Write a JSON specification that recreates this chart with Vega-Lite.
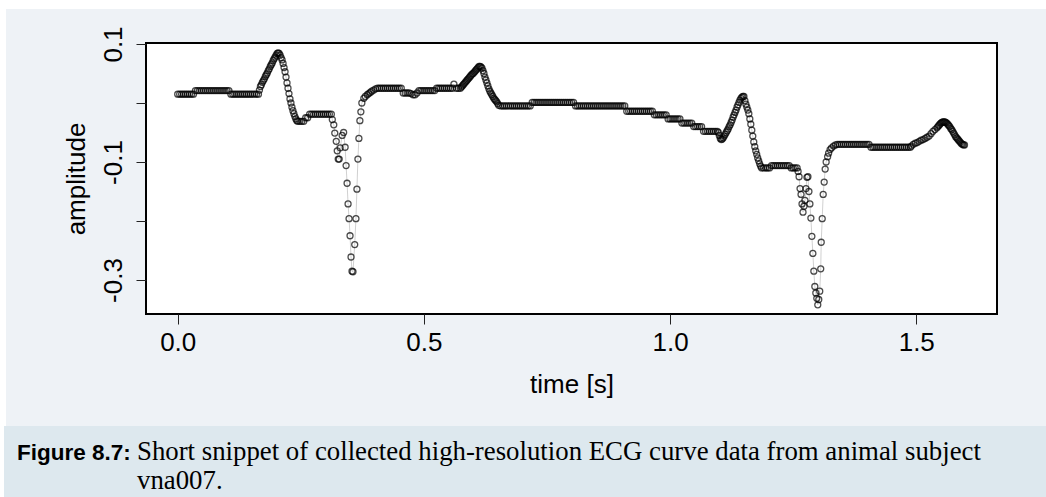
{
  "$schema": "https://vega.github.io/schema/vega-lite/v6.json",
  "width": 851,
  "height": 271,
  "autosize": {"type": "none"},
  "padding": {"left": 146, "top": 43, "right": 49, "bottom": 183},
  "background": "#eef2f6",
  "config": {
    "view": {"fill": "white", "stroke": "#000", "strokeWidth": 2},
    "font": "Liberation Sans"
  },
  "layer": [
    {
      "data": {"values": [{}]},
      "mark": {"type": "rect", "fill": "white", "stroke": null},
      "encoding": {"x": {"value": -146}, "x2": {"value": 900}, "y": {"value": -43}, "y2": {"value": -34}}
    },
    {
      "data": {"values": [{}]},
      "mark": {"type": "rect", "fill": "white", "stroke": null},
      "encoding": {"x": {"value": -146}, "x2": {"value": -140}, "y": {"value": -43}, "y2": {"value": 454}}
    },
    {
      "data": {"values": [{}]},
      "mark": {"type": "rect", "fill": "#dde8ee", "stroke": null},
      "encoding": {"x": {"value": -142}, "x2": {"value": 900}, "y": {"value": 383}, "y2": {"value": 454}}
    },
    {
      "data": {"values": [{}]},
      "mark": {"type": "text", "text": "Figure 8.7:", "font": "Liberation Sans", "fontWeight": "bold", "fontSize": 22.5, "align": "left", "baseline": "alphabetic", "color": "#000"},
      "encoding": {"x": {"value": -129}, "y": {"value": 417}}
    },
    {
      "data": {"values": [{}]},
      "mark": {"type": "text", "text": ["Short snippet of collected high-resolution ECG curve data from animal subject", "vna007."], "font": "Liberation Serif", "fontSize": 26.8, "lineHeight": 29, "align": "left", "baseline": "alphabetic", "color": "#000"},
      "encoding": {"x": {"value": -9}, "y": {"value": 417}}
    },
    {
      "data": {"name": "ecg"},
      "mark": {"type": "line", "color": "#c4c4c4", "strokeWidth": 0.8, "clip": true},
      "encoding": {
        "x": {"field": "t", "type": "quantitative", "scale": {"domain": [-0.0644, 1.664], "nice": false, "zero": false},
          "axis": {"title": "time [s]", "values": [0, 0.5, 1, 1.5], "format": ".1f", "domain": false, "grid": false,
            "tickColor": "#222", "tickSize": 10, "tickWidth": 1, "labelFontSize": 26, "labelFont": "Liberation Sans", "labelColor": "#000",
            "labelPadding": 26, "labelBaseline": "alphabetic", "labelFlush": false,
            "titleFontSize": 26, "titleFont": "Liberation Sans", "titleFontWeight": "normal", "titleColor": "#000",
            "titleBaseline": "alphabetic", "titleX": 425.5, "titleY": 78, "titleAnchor": "middle", "titleAlign": "center"}},
        "y": {"field": "a", "type": "quantitative", "scale": {"domain": [-0.3576, 0.1017], "nice": false, "zero": false},
          "axis": {"title": "amplitude", "values": [-0.3, -0.2, -0.1, 0, 0.1], "domain": false, "grid": false,
            "labelExpr": "abs(round(datum.value*10)) % 2 == 1 ? (datum.value < 0 ? '-' + format(-datum.value, '.1f') : format(datum.value, '.1f')) : ''",
            "tickColor": "#222", "tickSize": 10, "tickWidth": 1, "labelFontSize": 26, "labelFont": "Liberation Sans", "labelColor": "#000",
            "labelAngle": -90, "labelAlign": "center", "labelBaseline": "alphabetic", "labelPadding": 15, "labelFlush": false,
            "titleFontSize": 26, "titleFont": "Liberation Sans", "titleFontWeight": "normal", "titleColor": "#000",
            "titleAngle": -90, "titleBaseline": "alphabetic", "titleAlign": "center", "titleX": -62, "titleY": 135.5}}
      }
    },
    {
      "data": {"name": "ecg"},
      "mark": {"type": "point", "shape": "circle", "filled": false, "stroke": "#000", "strokeWidth": 1.3, "size": 36, "clip": true},
      "encoding": {
        "x": {"field": "t", "type": "quantitative"},
        "y": {"field": "a", "type": "quantitative"}
      }
    }
  ],
  "datasets": {
    "ecg": [
      {"t":0.000,"a":0.015},{"t":0.004,"a":0.015},{"t":0.008,"a":0.015},{"t":0.012,"a":0.015},{"t":0.016,"a":0.015},{"t":0.020,"a":0.015},{"t":0.024,"a":0.015},{"t":0.028,"a":0.015},{"t":0.032,"a":0.015},
      {"t":0.036,"a":0.021},{"t":0.040,"a":0.021},{"t":0.044,"a":0.021},{"t":0.048,"a":0.021},{"t":0.052,"a":0.021},{"t":0.056,"a":0.021},{"t":0.060,"a":0.021},{"t":0.064,"a":0.021},{"t":0.068,"a":0.021},{"t":0.072,"a":0.021},{"t":0.076,"a":0.021},{"t":0.080,"a":0.021},{"t":0.084,"a":0.021},{"t":0.088,"a":0.021},{"t":0.092,"a":0.021},{"t":0.096,"a":0.021},{"t":0.100,"a":0.021},{"t":0.104,"a":0.021},
      {"t":0.108,"a":0.015},{"t":0.112,"a":0.015},{"t":0.116,"a":0.015},{"t":0.120,"a":0.015},{"t":0.124,"a":0.015},{"t":0.128,"a":0.015},{"t":0.132,"a":0.015},{"t":0.136,"a":0.015},{"t":0.140,"a":0.015},{"t":0.144,"a":0.015},{"t":0.148,"a":0.015},{"t":0.152,"a":0.015},{"t":0.156,"a":0.015},{"t":0.160,"a":0.015},{"t":0.164,"a":0.015},
      {"t":0.166,"a":0.022},{"t":0.168,"a":0.028},{"t":0.170,"a":0.031},{"t":0.172,"a":0.035},{"t":0.174,"a":0.038},{"t":0.176,"a":0.041},{"t":0.178,"a":0.045},{"t":0.180,"a":0.048},{"t":0.182,"a":0.051},{"t":0.184,"a":0.055},{"t":0.186,"a":0.058},{"t":0.188,"a":0.062},{"t":0.190,"a":0.065},{"t":0.192,"a":0.068},{"t":0.194,"a":0.072},{"t":0.196,"a":0.075},{"t":0.198,"a":0.078},{"t":0.200,"a":0.081},{"t":0.202,"a":0.084},{"t":0.204,"a":0.085},
      {"t":0.206,"a":0.084},{"t":0.208,"a":0.081},{"t":0.210,"a":0.077},{"t":0.212,"a":0.073},{"t":0.214,"a":0.067},{"t":0.216,"a":0.060},{"t":0.218,"a":0.053},{"t":0.220,"a":0.044},{"t":0.222,"a":0.034},{"t":0.224,"a":0.025},{"t":0.226,"a":0.016},{"t":0.228,"a":0.007},{"t":0.230,"a":0.000},{"t":0.232,"a":-0.007},{"t":0.234,"a":-0.013},{"t":0.236,"a":-0.018},{"t":0.238,"a":-0.023},{"t":0.240,"a":-0.027},{"t":0.242,"a":-0.030},
      {"t":0.244,"a":-0.031},{"t":0.248,"a":-0.031},{"t":0.252,"a":-0.031},{"t":0.256,"a":-0.031},{"t":0.260,"a":-0.025},{"t":0.264,"a":-0.025},
      {"t":0.268,"a":-0.019},{"t":0.272,"a":-0.019},{"t":0.276,"a":-0.019},{"t":0.280,"a":-0.019},{"t":0.284,"a":-0.019},{"t":0.288,"a":-0.019},{"t":0.292,"a":-0.019},{"t":0.296,"a":-0.019},{"t":0.300,"a":-0.019},{"t":0.304,"a":-0.019},{"t":0.308,"a":-0.019},{"t":0.312,"a":-0.019},
      {"t":0.314,"a":-0.028},{"t":0.317,"a":-0.037},{"t":0.319,"a":-0.051},{"t":0.322,"a":-0.065},{"t":0.324,"a":-0.081},{"t":0.326,"a":-0.095},{"t":0.328,"a":-0.095},{"t":0.330,"a":-0.076},{"t":0.334,"a":-0.055},{"t":0.337,"a":-0.050},{"t":0.340,"a":-0.075},{"t":0.342,"a":-0.106},{"t":0.344,"a":-0.136},{"t":0.346,"a":-0.171},{"t":0.348,"a":-0.196},{"t":0.350,"a":-0.225},{"t":0.352,"a":-0.261},{"t":0.354,"a":-0.285},{"t":0.356,"a":-0.286},{"t":0.3595,"a":-0.240},{"t":0.362,"a":-0.196},{"t":0.364,"a":-0.146},{"t":0.366,"a":-0.095},{"t":0.368,"a":-0.060},{"t":0.370,"a":-0.030},{"t":0.372,"a":-0.015},{"t":0.374,"a":0.000},{"t":0.378,"a":0.008},{"t":0.381,"a":0.011},{"t":0.385,"a":0.014},{"t":0.388,"a":0.016},{"t":0.391,"a":0.018},{"t":0.394,"a":0.020},{"t":0.398,"a":0.022},{"t":0.402,"a":0.024},{"t":0.406,"a":0.025},
      {"t":0.410,"a":0.025},{"t":0.414,"a":0.025},{"t":0.418,"a":0.025},{"t":0.422,"a":0.025},{"t":0.426,"a":0.025},{"t":0.430,"a":0.025},{"t":0.434,"a":0.025},{"t":0.438,"a":0.025},{"t":0.442,"a":0.025},{"t":0.446,"a":0.025},{"t":0.450,"a":0.025},{"t":0.454,"a":0.025},
      {"t":0.458,"a":0.017},{"t":0.462,"a":0.017},{"t":0.466,"a":0.017},{"t":0.470,"a":0.017},{"t":0.474,"a":0.016},{"t":0.478,"a":0.014},{"t":0.482,"a":0.014},{"t":0.486,"a":0.017},
      {"t":0.490,"a":0.021},{"t":0.494,"a":0.021},{"t":0.498,"a":0.021},{"t":0.502,"a":0.021},{"t":0.506,"a":0.021},{"t":0.510,"a":0.021},{"t":0.514,"a":0.021},{"t":0.518,"a":0.021},{"t":0.522,"a":0.021},
      {"t":0.526,"a":0.025},{"t":0.530,"a":0.025},{"t":0.534,"a":0.025},{"t":0.538,"a":0.025},{"t":0.542,"a":0.025},{"t":0.546,"a":0.025},{"t":0.550,"a":0.025},{"t":0.554,"a":0.025},{"t":0.558,"a":0.025},{"t":0.561,"a":0.032},{"t":0.566,"a":0.025},{"t":0.570,"a":0.025},{"t":0.574,"a":0.025},
      {"t":0.576,"a":0.027},{"t":0.578,"a":0.029},{"t":0.580,"a":0.031},{"t":0.582,"a":0.033},{"t":0.584,"a":0.035},{"t":0.586,"a":0.037},{"t":0.588,"a":0.039},{"t":0.590,"a":0.041},{"t":0.592,"a":0.043},{"t":0.594,"a":0.045},{"t":0.596,"a":0.047},{"t":0.598,"a":0.049},{"t":0.600,"a":0.050},{"t":0.602,"a":0.052},{"t":0.604,"a":0.054},{"t":0.606,"a":0.056},{"t":0.608,"a":0.058},{"t":0.610,"a":0.060},{"t":0.612,"a":0.062},{"t":0.614,"a":0.062},
      {"t":0.616,"a":0.061},{"t":0.618,"a":0.059},{"t":0.620,"a":0.055},{"t":0.622,"a":0.050},{"t":0.624,"a":0.044},{"t":0.626,"a":0.039},{"t":0.628,"a":0.034},{"t":0.630,"a":0.029},{"t":0.632,"a":0.024},{"t":0.634,"a":0.020},{"t":0.636,"a":0.017},{"t":0.638,"a":0.014},{"t":0.640,"a":0.011},{"t":0.642,"a":0.008},{"t":0.644,"a":0.006},{"t":0.646,"a":0.004},{"t":0.648,"a":0.002},{"t":0.650,"a":-0.001},{"t":0.652,"a":-0.004},
      {"t":0.656,"a":-0.005},{"t":0.660,"a":-0.005},{"t":0.664,"a":-0.005},{"t":0.668,"a":-0.005},{"t":0.672,"a":-0.005},{"t":0.676,"a":-0.005},{"t":0.680,"a":-0.005},{"t":0.684,"a":-0.005},{"t":0.688,"a":-0.005},{"t":0.692,"a":-0.005},{"t":0.696,"a":-0.005},{"t":0.700,"a":-0.005},{"t":0.704,"a":-0.005},{"t":0.708,"a":-0.005},{"t":0.712,"a":-0.005},{"t":0.716,"a":-0.005},
      {"t":0.720,"a":0.001},{"t":0.724,"a":0.001},{"t":0.728,"a":0.001},{"t":0.732,"a":0.001},{"t":0.736,"a":0.001},{"t":0.740,"a":0.001},{"t":0.744,"a":0.001},{"t":0.748,"a":0.001},{"t":0.752,"a":0.001},{"t":0.756,"a":0.001},{"t":0.760,"a":0.001},{"t":0.764,"a":0.001},{"t":0.768,"a":0.001},{"t":0.772,"a":0.001},{"t":0.776,"a":0.001},{"t":0.780,"a":0.001},{"t":0.784,"a":0.001},{"t":0.788,"a":0.001},{"t":0.792,"a":0.001},{"t":0.796,"a":0.001},{"t":0.800,"a":0.001},{"t":0.804,"a":0.001},
      {"t":0.808,"a":-0.005},{"t":0.812,"a":-0.005},{"t":0.816,"a":-0.005},{"t":0.820,"a":-0.005},{"t":0.824,"a":-0.005},{"t":0.828,"a":-0.005},{"t":0.832,"a":-0.005},{"t":0.836,"a":-0.005},{"t":0.840,"a":-0.005},{"t":0.844,"a":-0.005},{"t":0.848,"a":-0.005},{"t":0.852,"a":-0.005},{"t":0.856,"a":-0.005},{"t":0.860,"a":-0.005},{"t":0.864,"a":-0.005},{"t":0.868,"a":-0.005},{"t":0.872,"a":-0.005},{"t":0.876,"a":-0.005},{"t":0.880,"a":-0.005},{"t":0.884,"a":-0.005},{"t":0.888,"a":-0.005},{"t":0.892,"a":-0.005},{"t":0.896,"a":-0.005},{"t":0.900,"a":-0.005},{"t":0.904,"a":-0.005},{"t":0.908,"a":-0.005},
      {"t":0.912,"a":-0.014},{"t":0.916,"a":-0.014},{"t":0.920,"a":-0.014},{"t":0.924,"a":-0.014},{"t":0.928,"a":-0.014},{"t":0.932,"a":-0.014},{"t":0.936,"a":-0.014},{"t":0.940,"a":-0.014},{"t":0.944,"a":-0.014},{"t":0.948,"a":-0.014},{"t":0.952,"a":-0.014},{"t":0.956,"a":-0.014},{"t":0.960,"a":-0.014},{"t":0.964,"a":-0.014},
      {"t":0.968,"a":-0.020},{"t":0.972,"a":-0.020},{"t":0.976,"a":-0.020},{"t":0.980,"a":-0.020},{"t":0.984,"a":-0.020},{"t":0.988,"a":-0.020},{"t":0.992,"a":-0.020},
      {"t":0.996,"a":-0.027},{"t":1.000,"a":-0.027},{"t":1.004,"a":-0.027},{"t":1.008,"a":-0.027},{"t":1.012,"a":-0.027},{"t":1.016,"a":-0.027},{"t":1.020,"a":-0.027},
      {"t":1.024,"a":-0.034},{"t":1.028,"a":-0.034},{"t":1.032,"a":-0.034},{"t":1.036,"a":-0.034},{"t":1.040,"a":-0.034},{"t":1.044,"a":-0.034},
      {"t":1.048,"a":-0.040},{"t":1.052,"a":-0.040},{"t":1.056,"a":-0.040},{"t":1.060,"a":-0.040},{"t":1.064,"a":-0.040},
      {"t":1.068,"a":-0.048},{"t":1.072,"a":-0.048},{"t":1.076,"a":-0.048},{"t":1.080,"a":-0.048},{"t":1.084,"a":-0.048},{"t":1.088,"a":-0.048},{"t":1.092,"a":-0.048},{"t":1.096,"a":-0.048},
      {"t":1.098,"a":-0.050},{"t":1.100,"a":-0.055},{"t":1.102,"a":-0.060},{"t":1.104,"a":-0.062},
      {"t":1.106,"a":-0.061},{"t":1.108,"a":-0.059},{"t":1.110,"a":-0.056},{"t":1.112,"a":-0.053},{"t":1.114,"a":-0.050},{"t":1.116,"a":-0.047},{"t":1.118,"a":-0.044},{"t":1.120,"a":-0.040},{"t":1.122,"a":-0.037},{"t":1.124,"a":-0.033},{"t":1.126,"a":-0.029},{"t":1.128,"a":-0.024},{"t":1.130,"a":-0.020},{"t":1.132,"a":-0.016},{"t":1.134,"a":-0.012},{"t":1.136,"a":-0.007},{"t":1.138,"a":-0.003},{"t":1.140,"a":0.001},{"t":1.142,"a":0.005},{"t":1.144,"a":0.008},{"t":1.146,"a":0.010},{"t":1.148,"a":0.011},{"t":1.150,"a":0.011},
      {"t":1.152,"a":0.004},{"t":1.154,"a":-0.002},{"t":1.156,"a":-0.007},{"t":1.158,"a":-0.012},{"t":1.160,"a":-0.018},{"t":1.162,"a":-0.027},{"t":1.164,"a":-0.036},{"t":1.166,"a":-0.046},{"t":1.168,"a":-0.056},{"t":1.170,"a":-0.066},{"t":1.172,"a":-0.074},{"t":1.174,"a":-0.081},{"t":1.176,"a":-0.087},{"t":1.178,"a":-0.093},{"t":1.180,"a":-0.098},{"t":1.182,"a":-0.103},{"t":1.184,"a":-0.107},{"t":1.186,"a":-0.110},
      {"t":1.190,"a":-0.110},{"t":1.194,"a":-0.110},{"t":1.198,"a":-0.110},{"t":1.202,"a":-0.110},
      {"t":1.206,"a":-0.106},{"t":1.210,"a":-0.106},{"t":1.214,"a":-0.106},{"t":1.218,"a":-0.106},{"t":1.222,"a":-0.106},{"t":1.226,"a":-0.106},{"t":1.230,"a":-0.106},{"t":1.234,"a":-0.106},{"t":1.238,"a":-0.106},{"t":1.242,"a":-0.106},
      {"t":1.246,"a":-0.110},{"t":1.250,"a":-0.110},{"t":1.254,"a":-0.110},{"t":1.258,"a":-0.110},
      {"t":1.260,"a":-0.116},{"t":1.262,"a":-0.125},{"t":1.264,"a":-0.145},{"t":1.266,"a":-0.155},{"t":1.268,"a":-0.171},{"t":1.270,"a":-0.185},{"t":1.272,"a":-0.175},{"t":1.274,"a":-0.165},{"t":1.276,"a":-0.145},{"t":1.278,"a":-0.126},{"t":1.280,"a":-0.125},{"t":1.282,"a":-0.150},{"t":1.284,"a":-0.171},{"t":1.286,"a":-0.195},{"t":1.288,"a":-0.226},{"t":1.290,"a":-0.255},{"t":1.292,"a":-0.285},{"t":1.294,"a":-0.311},{"t":1.296,"a":-0.322},{"t":1.298,"a":-0.331},{"t":1.300,"a":-0.342},{"t":1.302,"a":-0.333},{"t":1.304,"a":-0.319},{"t":1.306,"a":-0.281},{"t":1.307,"a":-0.236},{"t":1.309,"a":-0.196},{"t":1.311,"a":-0.155},{"t":1.313,"a":-0.134},{"t":1.315,"a":-0.112},{"t":1.317,"a":-0.100},{"t":1.320,"a":-0.091},{"t":1.322,"a":-0.085},{"t":1.325,"a":-0.079},{"t":1.328,"a":-0.076},{"t":1.332,"a":-0.073},{"t":1.336,"a":-0.071},{"t":1.340,"a":-0.070},
      {"t":1.344,"a":-0.070},{"t":1.348,"a":-0.070},{"t":1.352,"a":-0.070},{"t":1.356,"a":-0.070},{"t":1.360,"a":-0.070},{"t":1.364,"a":-0.070},{"t":1.368,"a":-0.070},{"t":1.372,"a":-0.070},{"t":1.376,"a":-0.070},{"t":1.380,"a":-0.070},{"t":1.384,"a":-0.070},{"t":1.388,"a":-0.070},{"t":1.392,"a":-0.070},{"t":1.396,"a":-0.070},{"t":1.400,"a":-0.070},{"t":1.404,"a":-0.070},
      {"t":1.408,"a":-0.075},{"t":1.412,"a":-0.075},{"t":1.416,"a":-0.075},{"t":1.420,"a":-0.075},{"t":1.424,"a":-0.075},{"t":1.428,"a":-0.075},{"t":1.432,"a":-0.075},{"t":1.436,"a":-0.075},{"t":1.440,"a":-0.075},{"t":1.444,"a":-0.075},{"t":1.448,"a":-0.075},{"t":1.452,"a":-0.075},{"t":1.456,"a":-0.075},{"t":1.460,"a":-0.075},{"t":1.464,"a":-0.075},{"t":1.468,"a":-0.075},{"t":1.472,"a":-0.075},{"t":1.476,"a":-0.075},{"t":1.480,"a":-0.075},{"t":1.484,"a":-0.075},{"t":1.488,"a":-0.075},
      {"t":1.490,"a":-0.073},{"t":1.494,"a":-0.070},{"t":1.498,"a":-0.068},{"t":1.502,"a":-0.067},{"t":1.506,"a":-0.065},{"t":1.510,"a":-0.063},{"t":1.514,"a":-0.062},{"t":1.518,"a":-0.060},{"t":1.522,"a":-0.058},{"t":1.526,"a":-0.056},{"t":1.530,"a":-0.052},{"t":1.534,"a":-0.048},{"t":1.538,"a":-0.045},{"t":1.542,"a":-0.042},{"t":1.544,"a":-0.040},{"t":1.546,"a":-0.038},{"t":1.548,"a":-0.036},{"t":1.550,"a":-0.034},{"t":1.552,"a":-0.033},{"t":1.554,"a":-0.032},{"t":1.556,"a":-0.032},{"t":1.558,"a":-0.032},{"t":1.560,"a":-0.033},{"t":1.562,"a":-0.034},{"t":1.564,"a":-0.036},{"t":1.566,"a":-0.038},{"t":1.568,"a":-0.040},{"t":1.570,"a":-0.043},{"t":1.572,"a":-0.045},{"t":1.574,"a":-0.048},{"t":1.576,"a":-0.051},{"t":1.578,"a":-0.054},{"t":1.580,"a":-0.057},{"t":1.582,"a":-0.059},{"t":1.584,"a":-0.061},{"t":1.586,"a":-0.063},{"t":1.588,"a":-0.065},{"t":1.590,"a":-0.067},{"t":1.592,"a":-0.069},{"t":1.594,"a":-0.070},{"t":1.596,"a":-0.071},{"t":1.598,"a":-0.071}
    ]
  }
}
